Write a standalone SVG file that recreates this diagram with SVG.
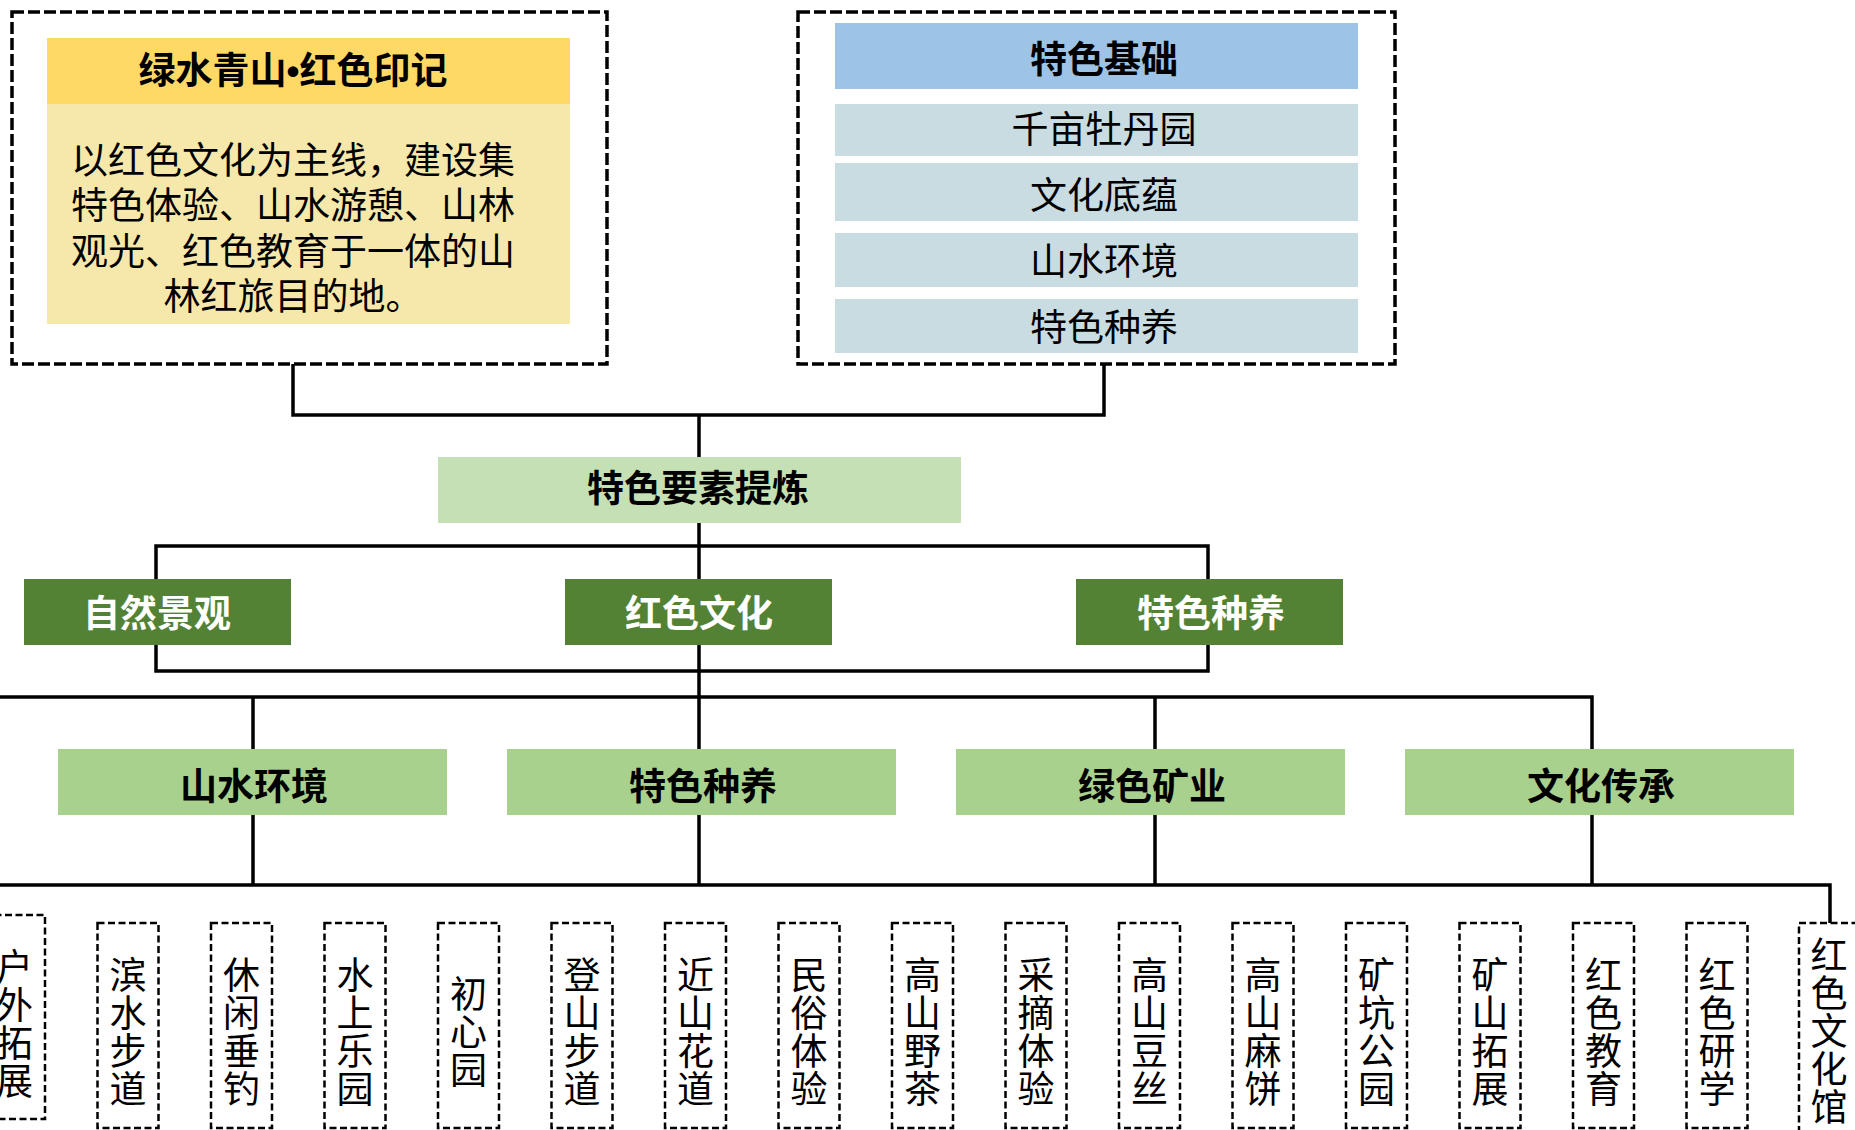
<svg xmlns="http://www.w3.org/2000/svg" width="1855" height="1130" viewBox="0 0 1855 1130">
<style>
.dash{fill:none;stroke:#000;stroke-width:3.5;stroke-dasharray:12 4}
.conn{fill:none;stroke:#000;stroke-width:3.5}
.leaf rect{fill:#fff;stroke:#000;stroke-width:2.5;stroke-dasharray:7 3.5}
text{font-family:"Noto Sans CJK SC","Noto Sans CJK JP",sans-serif;font-size:37px;text-anchor:middle;fill:#000}
.leaf text{writing-mode:vertical-rl;letter-spacing:1px}
.b{font-weight:bold}
.w{fill:#fff}
.lat{font-family:"Liberation Sans",sans-serif}
</style>
<rect width="1855" height="1130" fill="#fff"/>
<g id="connectors">
<path class="conn" d="M293,364 V415 H1104 V364"/>
<path class="conn" d="M699,415 V458"/>
<path class="conn" d="M699,523 V749"/>
<path class="conn" d="M156,546 H1208 V671 H156 Z"/>
<path class="conn" d="M0,697 H1592 V749"/>
<path class="conn" d="M253,697 V749"/>
<path class="conn" d="M1155,697 V749"/>
<path class="conn" d="M253,815 V885 M699,815 V885 M1155,815 V885 M1592,815 V885"/>
<path class="conn" d="M0,885 H1830 V923"/>
</g>
<g id="node-theme">
<rect class="dash" x="12" y="12" width="595" height="352"/>
<rect x="47" y="38" width="523" height="66" fill="#FFD966"/>
<rect x="47" y="104" width="523" height="220" fill="#F5E8AA"/>
<text class="b" x="293" y="84">绿水青山<tspan class="lat">•</tspan>红色印记</text>
<text x="293" y="174">以红色文化为主线，建设集<tspan x="293" y="219">特色体验、山水游憩、山林</tspan><tspan x="293" y="265">观光、红色教育于一体的山</tspan><tspan x="293" y="310">林红旅目的地。</tspan></text>
</g>
<g id="node-basis">
<rect class="dash" x="798" y="12" width="597" height="352"/>
<rect x="835" y="23" width="523" height="66" fill="#9DC3E6"/>
<rect x="835" y="104" width="523" height="52" fill="#C8DCE2"/>
<rect x="835" y="163" width="523" height="58" fill="#C8DCE2"/>
<rect x="835" y="233" width="523" height="54" fill="#C8DCE2"/>
<rect x="835" y="299" width="523" height="54" fill="#C8DCE2"/>
<text class="b" x="1104" y="73">特色基础</text>
<text x="1104" y="143">千亩牡丹园</text>
<text x="1104" y="209">文化底蕴</text>
<text x="1104" y="275">山水环境</text>
<text x="1104" y="341">特色种养</text>
</g>
<g id="node-extract">
<rect x="438" y="457" width="523" height="66" fill="#C5E0B4"/>
<text class="b" x="698" y="502">特色要素提炼</text>
</g>
<g id="node-nature">
<rect x="24" y="579" width="267" height="66" fill="#548235"/>
<text class="b w" x="157" y="627">自然景观</text>
</g>
<g id="node-red">
<rect x="565" y="579" width="267" height="66" fill="#548235"/>
<text class="b w" x="699" y="627">红色文化</text>
</g>
<g id="node-farm">
<rect x="1076" y="579" width="267" height="66" fill="#548235"/>
<text class="b w" x="1211" y="627">特色种养</text>
</g>
<g id="node-l3-1">
<rect x="58" y="749" width="389" height="66" fill="#A9D18E"/>
<text class="b" x="254" y="800">山水环境</text>
</g>
<g id="node-l3-2">
<rect x="507" y="749" width="389" height="66" fill="#A9D18E"/>
<text class="b" x="703" y="800">特色种养</text>
</g>
<g id="node-l3-3">
<rect x="956" y="749" width="389" height="66" fill="#A9D18E"/>
<text class="b" x="1152" y="800">绿色矿业</text>
</g>
<g id="node-l3-4">
<rect x="1405" y="749" width="389" height="66" fill="#A9D18E"/>
<text class="b" x="1601" y="800">文化传承</text>
</g>
<g id="leaf-0" class="leaf"><rect x="-16" y="915" width="61" height="204"/><text x="14.5" y="1024">户外拓展</text></g>
<g id="leaf-1" class="leaf"><rect x="97.5" y="923" width="61" height="205"/><text x="128" y="1032">滨水步道</text></g>
<g id="leaf-2" class="leaf"><rect x="211" y="923" width="61" height="205"/><text x="241.5" y="1032">休闲垂钓</text></g>
<g id="leaf-3" class="leaf"><rect x="324.5" y="923" width="61" height="205"/><text x="355" y="1032">水上乐园</text></g>
<g id="leaf-4" class="leaf"><rect x="438" y="923" width="61" height="205"/><text x="468.5" y="1032">初心园</text></g>
<g id="leaf-5" class="leaf"><rect x="551.5" y="923" width="61" height="205"/><text x="582" y="1032">登山步道</text></g>
<g id="leaf-6" class="leaf"><rect x="665" y="923" width="61" height="205"/><text x="695.5" y="1032">近山花道</text></g>
<g id="leaf-7" class="leaf"><rect x="778.5" y="923" width="61" height="205"/><text x="809" y="1032">民俗体验</text></g>
<g id="leaf-8" class="leaf"><rect x="892" y="923" width="61" height="205"/><text x="922.5" y="1032">高山野茶</text></g>
<g id="leaf-9" class="leaf"><rect x="1005.5" y="923" width="61" height="205"/><text x="1036" y="1032">采摘体验</text></g>
<g id="leaf-10" class="leaf"><rect x="1119" y="923" width="61" height="205"/><text x="1149.5" y="1032">高山豆丝</text></g>
<g id="leaf-11" class="leaf"><rect x="1232.5" y="923" width="61" height="205"/><text x="1263" y="1032">高山麻饼</text></g>
<g id="leaf-12" class="leaf"><rect x="1346" y="923" width="61" height="205"/><text x="1376.5" y="1032">矿坑公园</text></g>
<g id="leaf-13" class="leaf"><rect x="1459.5" y="923" width="61" height="205"/><text x="1490" y="1032">矿山拓展</text></g>
<g id="leaf-14" class="leaf"><rect x="1573" y="923" width="61" height="205"/><text x="1603.5" y="1032">红色教育</text></g>
<g id="leaf-15" class="leaf"><rect x="1686.5" y="923" width="61" height="205"/><text x="1717" y="1032">红色研学</text></g>
<g id="leaf-16" class="leaf"><rect x="1799" y="923" width="61" height="212"/><text x="1829" y="1031">红色文化馆</text></g>
</svg>
